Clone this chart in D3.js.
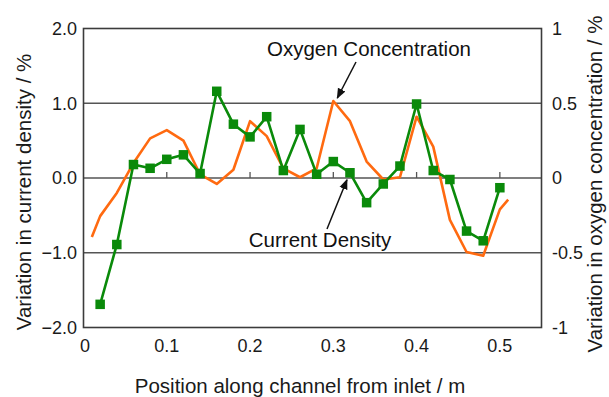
<!DOCTYPE html>
<html>
<head>
<meta charset="utf-8">
<script src="https://cdn.jsdelivr.net/npm/d3@7"></script>
<style>
  html, body { margin: 0; padding: 0; background: #fff; }
  svg { display: block; font-family: "Liberation Sans", Arial, sans-serif; }
</style>
</head>
<body>
<svg id="chart" width="609" height="397"></svg>
<script>
// Current density variation (left axis, %) sampled every 0.02 m
const cdPosition = [0.02, 0.04, 0.06, 0.08, 0.10, 0.12, 0.14, 0.16, 0.18, 0.20, 0.22, 0.24, 0.26,
                    0.28, 0.30, 0.32, 0.34, 0.36, 0.38, 0.40, 0.42, 0.44, 0.46, 0.48, 0.50];
const cdValue = [-1.69, -0.89, 0.18, 0.13, 0.25, 0.31, 0.06, 1.16, 0.72, 0.55, 0.82, 0.10, 0.65,
                 0.05, 0.22, 0.07, -0.33, -0.08, 0.16, 0.99, 0.10, -0.02, -0.71, -0.84, -0.13];

// Oxygen concentration variation (right axis, %)
const o2Position = [0.01, 0.02, 0.04, 0.06, 0.08, 0.10, 0.12, 0.14, 0.16, 0.18, 0.20, 0.22, 0.24, 0.26,
                    0.28, 0.30, 0.32, 0.34, 0.36, 0.38, 0.40, 0.42, 0.44, 0.46, 0.48, 0.50, 0.51];
const o2Value = [-0.395, -0.255, -0.10, 0.10, 0.265, 0.32, 0.25, 0.025, -0.04, 0.055, 0.38, 0.28, 0.065, 0.005,
                 0.065, 0.515, 0.38, 0.11, -0.01, 0.005, 0.41, 0.21, -0.28, -0.495, -0.52, -0.21, -0.145];

// Axis ticks
const xTicks = [0, 0.1, 0.2, 0.3, 0.4, 0.5];
const leftTicks = [2, 1, 0, -1, -2];
const rightTicks = [1, 0.5, 0, -0.5, -1];

const svg = d3.select("#chart");
const plot = { left: 83.5, right: 541.5, top: 28.5, bottom: 327.5 };

const x = d3.scaleLinear().domain([0, 0.55]).range([plot.left, plot.right]);
const yL = d3.scaleLinear().domain([-2, 2]).range([plot.bottom, plot.top]);
const yR = d3.scaleLinear().domain([-1, 1]).range([plot.bottom, plot.top]);

const frameColor = "#3c3c3c";
const gridColor = "#555";
const textColor = "#1a1a1a";
const green = "#0a8a0a";
const orange = "#ff6a10";

// Horizontal gridlines at the inner left-axis ticks
svg.append("g").selectAll("line").data([1, 0, -1]).join("line")
  .attr("x1", plot.left).attr("x2", plot.right)
  .attr("y1", d => yL(d)).attr("y2", d => yL(d))
  .attr("stroke", gridColor).attr("stroke-width", 1.5);

// Small upward ticks sitting on the zero line
svg.append("g").selectAll("line").data(xTicks.filter(d => d > 0)).join("line")
  .attr("x1", d => x(d)).attr("x2", d => x(d))
  .attr("y1", yL(0)).attr("y2", yL(0) - 6)
  .attr("stroke", gridColor).attr("stroke-width", 1.3);

// Plot frame
svg.append("rect")
  .attr("x", plot.left).attr("y", plot.top)
  .attr("width", plot.right - plot.left).attr("height", plot.bottom - plot.top)
  .attr("fill", "none").attr("stroke", frameColor).attr("stroke-width", 1.6);

// Tick labels
const tickFont = 18;
svg.append("g").selectAll("text").data(leftTicks).join("text")
  .attr("x", 77).attr("y", d => yL(d)).attr("dy", "0.35em")
  .attr("text-anchor", "end").attr("font-size", tickFont).attr("fill", textColor)
  .text(d => d3.format(".1f")(d));

svg.append("g").selectAll("text").data(rightTicks).join("text")
  .attr("x", 552).attr("y", d => yR(d)).attr("dy", "0.35em")
  .attr("text-anchor", "start").attr("font-size", tickFont).attr("fill", textColor)
  .text(d => String(d));

svg.append("g").selectAll("text").data(xTicks).join("text")
  .attr("x", d => x(d) + (d === 0 ? 1.5 : 0)).attr("y", 352)
  .attr("text-anchor", "middle").attr("font-size", tickFont).attr("fill", textColor)
  .text(d => String(d));

// Axis titles
const titleFont = 20.5;
svg.append("text")
  .attr("transform", "translate(31,192) rotate(-90)")
  .attr("text-anchor", "middle").attr("font-size", titleFont).attr("fill", textColor)
  .text("Variation in current density / %");

svg.append("text")
  .attr("transform", "translate(602,184) rotate(-90)")
  .attr("text-anchor", "middle").attr("font-size", titleFont).attr("fill", textColor)
  .text("Variation in oxygen concentration / %");

svg.append("text")
  .attr("x", 300).attr("y", 393)
  .attr("text-anchor", "middle").attr("font-size", titleFont).attr("fill", textColor)
  .text("Position along channel from inlet / m");

// Oxygen concentration line
const o2Data = o2Position.map((p, i) => [p, o2Value[i]]);
svg.append("path")
  .datum(o2Data)
  .attr("fill", "none").attr("stroke", orange).attr("stroke-width", 2.6)
  .attr("stroke-linejoin", "round")
  .attr("d", d3.line().x(d => x(d[0])).y(d => yR(d[1])));

// Current density line with square markers
const cdData = cdPosition.map((p, i) => [p, cdValue[i]]);
svg.append("path")
  .datum(cdData)
  .attr("fill", "none").attr("stroke", green).attr("stroke-width", 2.6)
  .attr("stroke-linejoin", "round")
  .attr("d", d3.line().x(d => x(d[0])).y(d => yL(d[1])));

const sq = 9.5;
svg.append("g").selectAll("rect").data(cdData).join("rect")
  .attr("x", d => x(d[0]) - sq / 2).attr("y", d => yL(d[1]) - sq / 2)
  .attr("width", sq).attr("height", sq)
  .attr("fill", green);

// Annotations with arrows
const defs = svg.append("defs");
defs.append("marker")
  .attr("id", "arrowhead")
  .attr("viewBox", "0 0 10 10").attr("refX", 9).attr("refY", 5)
  .attr("markerWidth", 7).attr("markerHeight", 7)
  .attr("orient", "auto")
  .append("path").attr("d", "M0,1 L10,5 L0,9 Z").attr("fill", "#111");

svg.append("text")
  .attr("x", 369).attr("y", 56)
  .attr("text-anchor", "middle").attr("font-size", titleFont).attr("fill", "#111")
  .text("Oxygen Concentration");
svg.append("line")
  .attr("x1", 356).attr("y1", 62)
  .attr("x2", x(0.30) + 4).attr("y2", yR(0.515) - 3)
  .attr("stroke", "#111").attr("stroke-width", 1.5)
  .attr("marker-end", "url(#arrowhead)");

svg.append("text")
  .attr("x", 320).attr("y", 247)
  .attr("text-anchor", "middle").attr("font-size", titleFont).attr("fill", "#111")
  .text("Current Density");
svg.append("line")
  .attr("x1", 327).attr("y1", 229)
  .attr("x2", x(0.32) - 3).attr("y2", yL(0.07) + 7)
  .attr("stroke", "#111").attr("stroke-width", 1.5)
  .attr("marker-end", "url(#arrowhead)");
</script>
</body>
</html>
